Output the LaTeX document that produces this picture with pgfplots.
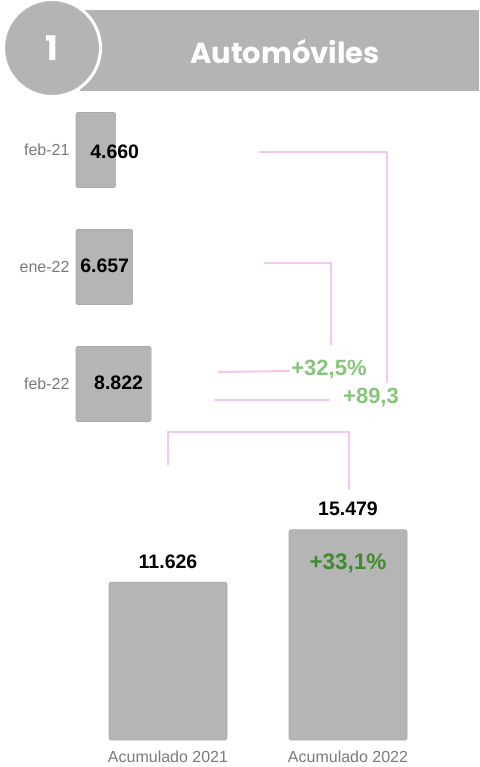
\documentclass[border=0pt]{standalone}
\usepackage{fontspec}
\setmainfont{Liberation Sans}
\newfontfamily\titlefont{Poppins}
\usepackage{pgfplots}
\pgfplotsset{compat=1.18}
\definecolor{bargray}{HTML}{B5B5B5}
\definecolor{baredge}{HTML}{A8A8A8}
\definecolor{labgray}{HTML}{7A7A7A}
\definecolor{pinkline}{HTML}{F4C6F2}
\definecolor{lgreen}{HTML}{86C57A}
\definecolor{dgreen}{HTML}{3F8B2C}
\definecolor{headgray}{HTML}{B4B4B4}
\begin{document}
\begin{tikzpicture}[x=1pt,y=1pt]
\useasboundingbox (0,0) rectangle (479,-767);
% header
\fill[headgray] (80,-10) rectangle (479,-91);
\fill[headgray, draw=white, line width=3pt] (52,-48) circle (48.5);
\node[text=white, font=\titlefont\bfseries\fontsize{34}{34}\selectfont] at (52,-48) {1};
\node[text=white, font=\titlefont\bfseries\fontsize{29}{29}\selectfont] at (285,-52) {Automóviles};

% top monthly bars
\begin{axis}[at={(76pt,-442.5pt)}, anchor=south west, scale only axis,
  width=400pt, height=351pt, xbar, bar width=75pt,
  xmin=0, xmax=47000, ymin=-0.5, ymax=2.5,
  xtick=\empty, ytick={0,1,2}, yticklabels={feb-22,ene-22,feb-21},
  axis line style={draw=none}, major tick length=0pt,
  yticklabel style={font=\fontsize{16}{16}\selectfont, text=labgray, xshift=-3pt},
  clip=false]
\addplot[fill=bargray, draw=baredge, line width=0.6pt, rounded corners=2pt]
  coordinates {(8822,0) (6657,1) (4660,2)};
\node[font=\bfseries\fontsize{19.5}{19.5}\selectfont] at (axis cs:4660,2) [xshift=-1pt,yshift=-2pt] {4.660};
\node[font=\bfseries\fontsize{19.5}{19.5}\selectfont] at (axis cs:6657,1) [xshift=-28pt,yshift=1pt] {6.657};
\node[font=\bfseries\fontsize{19.5}{19.5}\selectfont] at (axis cs:8822,0) [xshift=-32.5pt,yshift=1pt] {8.822};
\end{axis}

% connectors
\draw[pinkline, line width=2pt] (259,-152) -- (387,-152) -- (387,-383);
\draw[pinkline, line width=2pt] (214,-400) -- (330,-400);
\draw[pinkline, line width=2pt] (264,-263) -- (331,-263) -- (331,-345);
\draw[pinkline, line width=2pt] (218,-372) -- (290,-371);
\draw[pinkline, line width=2pt] (168,-465) -- (168,-432) -- (349,-432) -- (349,-490);
\node[text=lgreen, font=\bfseries\fontsize{22}{22}\selectfont] at (329,-370) {+32,5\%};
\node[text=lgreen, font=\bfseries\fontsize{22}{22}\selectfont] at (371,-398) {+89,3};

% accumulated bars
\begin{axis}[at={(78pt,-740pt)}, anchor=south west, scale only axis,
  width=360pt, height=220pt, ybar, bar width=118pt,
  xmin=-0.5, xmax=1.5, ymin=0, ymax=16200,
  xtick={0,1}, xticklabels={Acumulado 2021, Acumulado 2022}, ytick=\empty,
  axis line style={draw=none}, major tick length=0pt,
  xticklabel style={font=\fontsize{16}{16}\selectfont, text=labgray, yshift=-7pt},
  nodes near coords={\pgfmathprintnumber[fixed,precision=0,1000 sep={.},assume math mode=true]{\pgfplotspointmeta}},
  every node near coord/.append style={font=\bfseries\fontsize{19.5}{19.5}\selectfont, text=black, yshift=10pt},
  clip=false]
\addplot[fill=bargray, draw=baredge, line width=0.6pt, rounded corners=2pt]
  coordinates {(0,11626) (1,15479)};
\node[text=dgreen, font=\bfseries\fontsize{22.5}{22.5}\selectfont] at (axis cs:1,15479) [yshift=-34pt] {+33,1\%};
\end{axis}
\end{tikzpicture}
\end{document}
